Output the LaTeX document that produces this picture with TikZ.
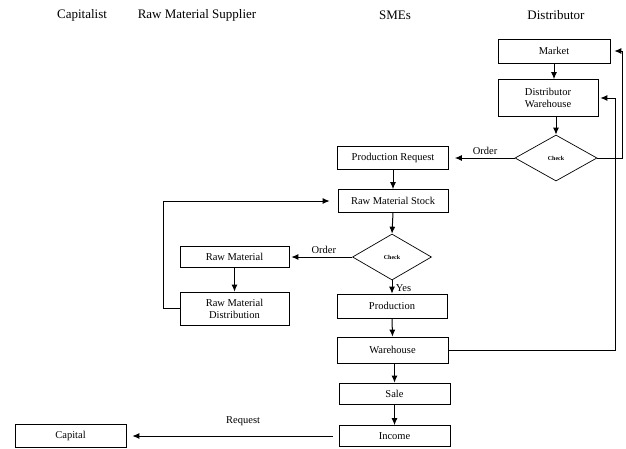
\documentclass[tikz,border=0pt]{standalone}
\usepackage{fontspec}
\setmainfont{Liberation Serif}
\usetikzlibrary{arrows.meta}
\usetikzlibrary{shapes.geometric}
\tikzset{
	box/.style={draw, line width=0.7pt, inner sep=1pt, align=center,
			font=\fontsize{10.5}{12}\selectfont},
	check/.style={draw, diamond, aspect=1.75, inner sep=0pt, line width=0.7pt,
			minimum width=#1, minimum height=46pt,
			font=\fontsize{6}{7}\selectfont\bfseries},
	arr/.style={line width=1pt, -{Latex[length=7pt,width=6pt]}},
	lane/.style={font=\fontsize{13}{15}\selectfont},
	lbl/.style={font=\fontsize{10.5}{12}\selectfont}
}

\begin{document}
\begin{tikzpicture}[x=1pt, y=-1pt]
			\useasboundingbox (0,0) rectangle (626,448);

			\node[lane] (capitalist) at (82,15) {Capitalist};
			\node[lane] (supplier) at (197,15) {Raw Material Supplier};
			\node[lane] (smes) at (395,15) {SMEs};
			\node[lane] (distributor) at (556,15) {Distributor};

			\node[box, minimum width=112pt, minimum height=24pt] (market) at (554,51) {Market};
			\node[box, minimum width=100pt, minimum height=37pt] (dwh) at (548,98) {Distributor\\Warehouse};
			\node[check=82pt] (check1) at (556,158) {Check};

			\node[box, minimum width=111pt, minimum height=23pt] (preq) at (393,158) {Production Request};
			\node[box, minimum width=110pt, minimum height=23pt] (rmstock) at (393,201) {Raw Material Stock};
			\node[check=79pt] (check2) at (392,257) {Check};
			\node[box, minimum width=109pt, minimum height=21pt] (rawmat) at (234.5,257) {Raw Material};
			\node[box, minimum width=109pt, minimum height=33pt] (rmdist) at (234.5,308.5) {Raw Material\\Distribution};
			\node[box, minimum width=110pt, minimum height=24pt] (prod) at (392,306) {Production};
			\node[box, minimum width=111pt, minimum height=26pt] (whouse) at (392.5,350) {Warehouse};
			\node[box, minimum width=111pt, minimum height=21pt] (sale) at (394.5,393.5) {Sale};
			\node[box, minimum width=111pt, minimum height=21pt] (income) at (394.5,436) {Income};
			\node[box, minimum width=111pt, minimum height=23pt] (capital) at (70.5,436) {Capital};

			\draw[arr] (market.south) -- (market.south |- dwh.north);
			\draw[arr] (dwh.south -| check1) -- (check1.north);
			\draw[arr, shorten >=4pt] (check1.east) -| ([xshift=12pt]market.east) -- (market.east);
			\draw[arr, shorten >=2pt] (whouse.east) -| ([xshift=17pt]dwh.east) -- (dwh.east);
			\draw[arr, shorten >=6pt] (check1.west) -- node[lbl, above, pos=0.45] {Order} (preq.east);

			\draw[arr] (preq.south) -- (rmstock.north);
			\draw[arr] (rmstock.south) -- (check2.north);
			\draw[arr, shorten >=2pt] (check2.west) -- node[lbl, above, pos=0.45] {Order} (rawmat.east);
			\draw[arr] (rawmat.south) -- (rmdist.north);
			\draw[arr, shorten >=8pt] (rmdist.west) -- ++(-16,0) |- (rmstock.west);
			\draw[arr] (check2.south) -- node[lbl, right, pos=0.55] {Yes} (prod.north);
			\draw[arr] (prod.south) -- (whouse.north);
			\draw[arr] (whouse.south -| sale) -- (sale.north);
			\draw[arr] (sale.south) -- (income.north);
			\draw[arr, shorten <=6pt, shorten >=6pt] (income.west) -- node[lbl, above=6pt, pos=0.45] {Request} (capital.east);
		\end{tikzpicture}
\end{document}
